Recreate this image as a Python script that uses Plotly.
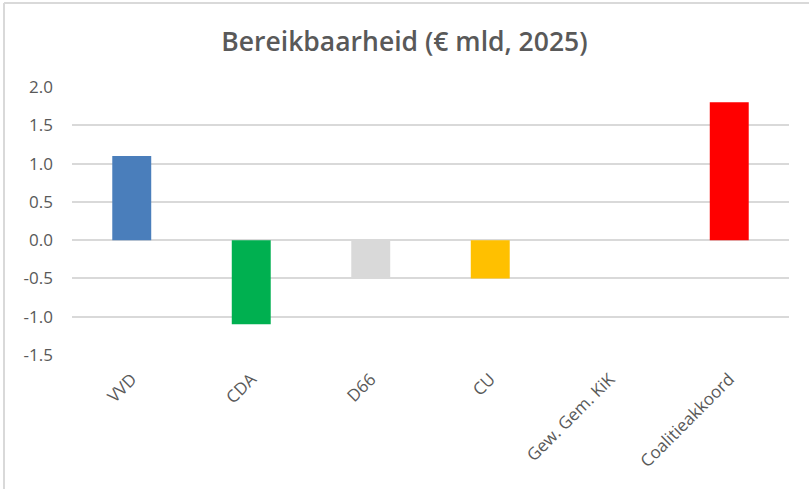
import plotly.graph_objects as go

categories = ["VVD", "CDA", "D66", "CU", "Gew. Gem. KiK", "Coalitieakkoord"]
values = [1.1, -1.1, -0.5, -0.5, 0.0, 1.8]
colors = ["#4a7ebb", "#00b050", "#d9d9d9", "#ffc000", "#a5a5a5", "#ff0000"]
title_text = "Bereikbaarheid (€ mld, 2025)"
y_ticks = [-1.5, -1.0, -0.5, 0.0, 0.5, 1.0, 1.5, 2.0]

W, H = 809, 489
L, R, T, B = 72, 20, 87, 134

fig = go.Figure(go.Bar(
    x=categories, y=values,
    marker=dict(color=colors, line=dict(width=0)),
    hoverinfo="x+y",
))

def px_x(p):
    return (p - L) / (W - L - R)

def px_y(p):
    return (H - B - p) / (H - T - B)

fig.update_layout(
    width=W, height=H,
    margin=dict(l=L, r=R, t=T, b=B),
    paper_bgcolor="white", plot_bgcolor="white",
    bargap=0.674,
    showlegend=False,
    title=dict(text=title_text, x=0.5, xanchor="center",
               y=1 - 42 / H, yanchor="middle",
               font=dict(family="Open Sans", size=26.5, weight=600, color="#595959")),
    font=dict(family="Open Sans", size=16, color="#595959"),
    xaxis=dict(showgrid=False, showline=False, zeroline=False, ticks="",
               tickangle=-45, ticklabelstandoff=10,
               tickfont=dict(size=17, color="#595959")),
    yaxis=dict(range=[-1.5, 2.0], tickvals=y_ticks,
               ticktext=[f"{v:.1f}" for v in y_ticks],
               showgrid=True, gridcolor="#d9d9d9", gridwidth=1.5,
               zeroline=True, zerolinecolor="#d9d9d9", zerolinewidth=1.5,
               showline=False, ticks="", ticklabelstandoff=18,
               tickfont=dict(size=17, color="#595959")),
    shapes=[
        dict(type="line", xref="paper", yref="paper",
             x0=px_x(4), x1=px_x(809), y0=px_y(3), y1=px_y(3),
             line=dict(color="#d9d9d9", width=2)),
        dict(type="line", xref="paper", yref="paper",
             x0=px_x(4), x1=px_x(4), y0=px_y(3), y1=px_y(489),
             line=dict(color="#d9d9d9", width=2)),
    ],
)

fig.write_html("out.html", config={"displayModeBar": False},
               post_script="document.body.style.margin='0';document.body.style.overflow='hidden';")
